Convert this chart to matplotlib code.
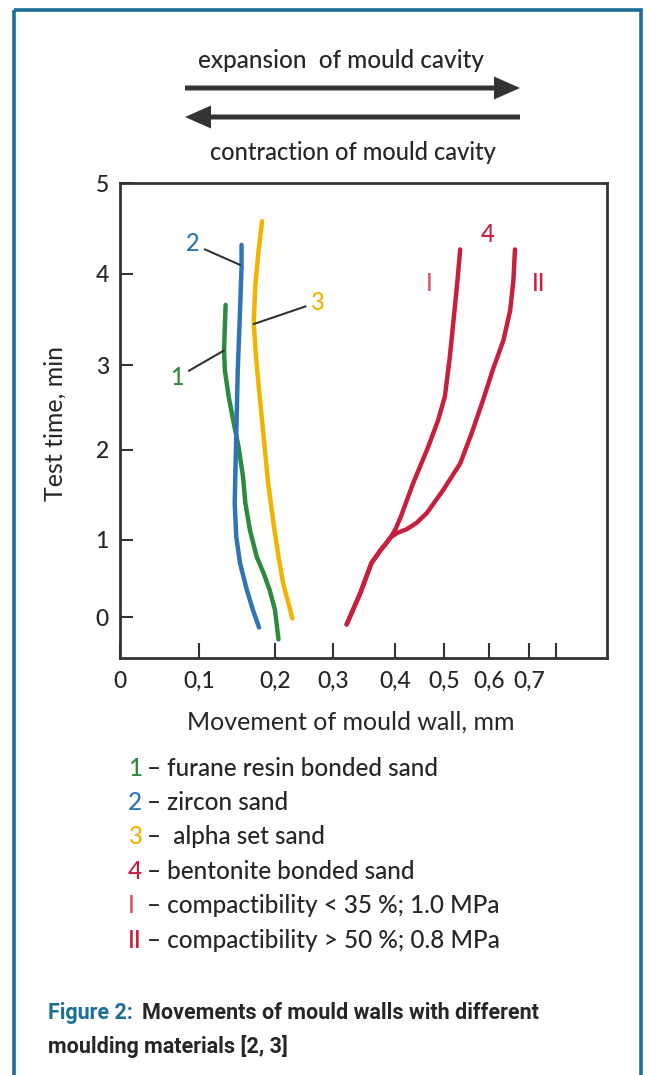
import numpy as np
import matplotlib
matplotlib.use("Agg")
import matplotlib.pyplot as plt
from matplotlib.patches import FancyArrow, Rectangle

plt.rcParams['font.family'] = ['Lato', 'DejaVu Sans']
plt.rcParams['font.weight'] = 'medium'

W, H = 649, 1075
INK = '#262626'
FRAME = '#1b6f97'

# colours of the four sands
C_FURANE = '#2b8a3e'
C_ZIRCON = '#2f74b5'
C_ALPHA = '#f2b300'
C_BENT = '#c81f3f'

# --- data: movement of mould wall [mm] vs test time [min] ---
furane_x = [0.135, 0.134, 0.133, 0.134, 0.139, 0.145, 0.152, 0.158, 0.161, 0.167,
            0.176, 0.185, 0.193, 0.200, 0.206]
furane_t = [3.66, 3.42, 3.16, 2.94, 2.63, 2.35, 2.04, 1.70, 1.41, 1.11,
            0.78, 0.57, 0.35, 0.09, -0.30]

zircon_x = [0.156, 0.156, 0.154, 0.151, 0.149, 0.147, 0.149, 0.154, 0.163, 0.171, 0.179]
zircon_t = [4.32, 4.08, 3.60, 2.94, 2.16, 1.41, 1.04, 0.70, 0.35, 0.09, -0.14]

alpha_x = [0.183, 0.178, 0.174, 0.172, 0.175, 0.179, 0.185, 0.191, 0.198, 0.206, 0.214, 0.230]
alpha_t = [4.58, 4.23, 3.86, 3.46, 3.09, 2.71, 2.16, 1.63, 1.19, 0.78, 0.44, -0.02]

# bentonite: common start, then split into I and II
bent_x = [0.322, 0.344, 0.362, 0.376, 0.386, 0.393]
bent_t = [-0.10, 0.31, 0.70, 0.86, 0.96, 1.03]
bent1_x = [0.401, 0.412, 0.437, 0.468, 0.488, 0.502, 0.513, 0.522, 0.530, 0.536]
bent1_t = [1.12, 1.26, 1.63, 2.04, 2.35, 2.63, 3.09, 3.53, 3.93, 4.27]
bent2_x = [0.405, 0.424, 0.444, 0.465, 0.499, 0.536, 0.561, 0.587, 0.610, 0.636, 0.653, 0.661, 0.665]
bent2_t = [1.08, 1.12, 1.19, 1.30, 1.56, 1.85, 2.19, 2.59, 2.95, 3.27, 3.60, 3.93, 4.27]

x_ticks = [0, 0.1, 0.2, 0.3, 0.4, 0.5, 0.6, 0.7, 0.8]
x_labels = ['0', '0,1', '0,2', '0,3', '0,4', '0,5', '0,6', '0,7', '']
t_ticks = [0, 1, 2, 3, 4, 5]

legend_keys = ['1', '2', '3', '4', 'I', 'II']
legend_cols = [C_FURANE, C_ZIRCON, C_ALPHA, C_BENT, '#d4566e', C_BENT]
legend_text = ['– furane resin bonded sand', '– zircon sand', '–  alpha set sand',
               '– bentonite bonded sand', '– compactibility < 35 %; 1.0 MPa',
               '– compactibility > 50 %; 0.8 MPa']

# the original axes are drawn with uneven tick spacing -> piecewise scales
x_px = [120, 199, 275, 333, 395, 444, 489, 529, 556]
t_vals = [-0.55, 0, 1, 2, 3, 4, 5]
t_px = [658, 617, 540, 450, 365, 274, 183]


def piecewise(v, xp, fp):
    v = np.asarray(v, float)
    xp = np.asarray(xp, float)
    fp = np.asarray(fp, float)
    out = np.interp(v, xp, fp)
    lo = fp[0] + (v - xp[0]) * (fp[1] - fp[0]) / (xp[1] - xp[0])
    hi = fp[-1] + (v - xp[-1]) * (fp[-1] - fp[-2]) / (xp[-1] - xp[-2])
    return np.where(v < xp[0], lo, np.where(v > xp[-1], hi, out))


def x_fwd(v):
    return piecewise(v, x_ticks, x_px)


def x_inv(p):
    return piecewise(p, x_px, x_ticks)


def t_fwd(v):
    return -piecewise(v, t_vals, t_px)


def t_inv(p):
    return piecewise(-np.asarray(p, float), t_px[::-1], t_vals[::-1])


fig = plt.figure(figsize=(W / 100, H / 100), dpi=100)
fig.patch.set_facecolor('white')

# page layer in pixel units for frame, arrows and free text
bg = fig.add_axes([0, 0, 1, 1], zorder=0)
bg.set_xlim(0, W)
bg.set_ylim(H, 0)
bg.axis('off')

bg.add_patch(Rectangle((14, 10), 627, 1090, fill=False, ec=FRAME, lw=2.6))

bg.text(341, 60, 'expansion  of mould cavity', ha='center', va='center',
        fontsize=17.5, color=INK)
bg.text(353, 152, 'contraction of mould cavity', ha='center', va='center',
        fontsize=17, color=INK)
bg.add_patch(FancyArrow(185, 88, 335, 0, width=5, head_width=23, head_length=26,
                        length_includes_head=True, color='#333333', lw=0))
bg.add_patch(FancyArrow(520, 117, -335, 0, width=5, head_width=23, head_length=26,
                        length_includes_head=True, color='#333333', lw=0))

# legend lines
for i, (key, col, txt) in enumerate(zip(legend_keys, legend_cols, legend_text)):
    y = 768 + i * 34.4
    bg.text(128, y, key, ha='left', va='center', fontsize=17.5, color=col)
    bg.text(147, y, txt, ha='left', va='center', fontsize=17.5, color=INK)

# caption
cap_font = ['Roboto', 'DejaVu Sans']
bg.text(48, 1013, 'Figure 2:', ha='left', va='center', fontsize=15.5,
        fontweight='bold', color=FRAME, family=cap_font)
bg.text(142, 1013, 'Movements of mould walls with different', ha='left', va='center',
        fontsize=15.5, fontweight='bold', color=INK, family=cap_font)
bg.text(48, 1047, 'moulding materials [2, 3]', ha='left', va='center',
        fontsize=15.5, fontweight='bold', color=INK, family=cap_font)

# main chart
ax = fig.add_axes([120 / W, 1 - 658 / H, 487 / W, 475 / H], zorder=1)
ax.patch.set_alpha(0)
ax.set_xscale('function', functions=(x_fwd, x_inv))
ax.set_yscale('function', functions=(t_fwd, t_inv))
ax.set_xlim(0, 0.989)
ax.set_ylim(-0.55, 5)

style = dict(lw=3.2, solid_capstyle='round', solid_joinstyle='round')
ax.plot(furane_x, furane_t, color=C_FURANE, **style)
ax.plot(zircon_x, zircon_t, color=C_ZIRCON, **style)
ax.plot(alpha_x, alpha_t, color=C_ALPHA, **style)
ax.plot(bent_x + bent1_x, bent_t + bent1_t, color=C_BENT, **style)
ax.plot(bent_x + bent2_x, bent_t + bent2_t, color=C_BENT, **style)

lead = dict(arrowstyle='-', color='#333333', lw=1.5, shrinkA=2, shrinkB=0)
ax.annotate('2', xy=(0.154, 4.10), xytext=(0.092, 4.33), fontsize=17, color=C_ZIRCON,
            ha='center', va='center', arrowprops=lead)
ax.annotate('3', xy=(0.172, 3.45), xytext=(0.274, 3.69), fontsize=17, color=C_ALPHA,
            ha='center', va='center', arrowprops=lead)
ax.annotate('1', xy=(0.133, 3.16), xytext=(0.072, 2.85), fontsize=17, color=C_FURANE,
            ha='center', va='center', arrowprops=lead)
ax.text(0.597, 4.43, '4', fontsize=17, color=C_BENT, ha='center', va='center')
ax.text(0.470, 3.90, 'I', fontsize=17, color='#d4566e', ha='center', va='center')
ax.text(0.734, 3.90, 'II', fontsize=17, color=C_BENT, ha='center', va='center')

ax.set_xticks(x_ticks)
ax.set_xticklabels(x_labels)
ax.set_yticks(t_ticks)
ax.minorticks_off()
ax.tick_params(axis='x', direction='in', length=11, width=1.5, color='#333333',
               labelsize=16.5, labelcolor=INK, pad=9)
ax.tick_params(axis='y', direction='in', length=9.5, width=1.5, color='#333333',
               labelsize=16.5, labelcolor=INK, pad=8)
for s in ax.spines.values():
    s.set_color('#333333')
    s.set_linewidth(2)

ax.set_xlabel('Movement of mould wall, mm', fontsize=18, color=INK, va='center')
ax.xaxis.set_label_coords(0.474, -0.135)
ax.set_ylabel('Test time, min', fontsize=18, color=INK, va='center')
ax.yaxis.set_label_coords(-0.133, 0.493)

fig.savefig('out.png', dpi=100, facecolor='white')
